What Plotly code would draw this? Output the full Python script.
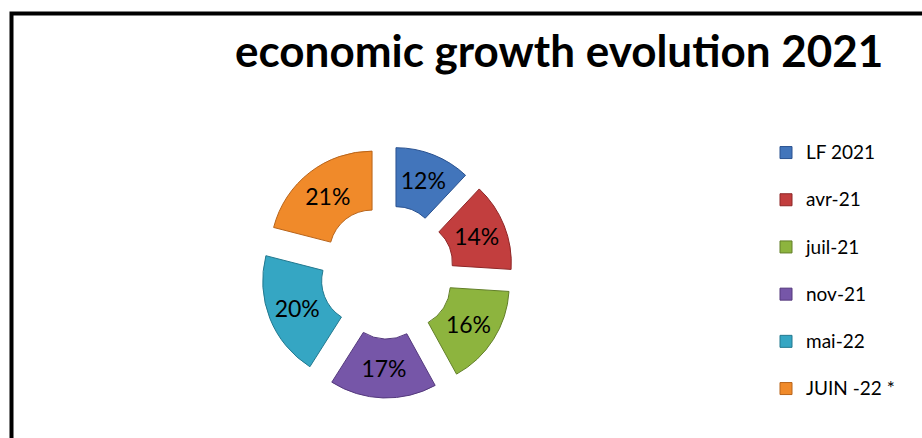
import plotly.graph_objects as go

categories = ["LF 2021", "avr-21", "juil-21", "nov-21", "mai-22", "JUIN -22 *"]
values = [12, 14, 16, 17, 20, 21]
colors = ["#4275BB", "#C23E3E", "#8DB43E", "#7656A8", "#35A6C3", "#F08A2A"]
edges = ["#2A5290", "#8E2626", "#627F28", "#54397D", "#23798F", "#B8641A"]

W, H = 922, 438

legend_labels = [f"<span style='font-size:19px'>{c}</span><br> " for c in categories]

fig = go.Figure(go.Pie(
    labels=legend_labels,
    values=values,
    sort=False,
    direction="clockwise",
    rotation=0,
    hole=0.42,
    pull=[0.24] * len(values),
    marker=dict(colors=colors, line=dict(color=edges, width=1)),
    textinfo="percent",
    texttemplate="%{value}%",
    textposition="inside",
    insidetextorientation="horizontal",
    textfont=dict(family="Lato", size=23, color="black"),
    domain=dict(x=[261 / W, 513 / W], y=[1 - 398 / H, 1 - 146 / H]),
    hoverinfo="skip",
))

fig.update_layout(
    width=W, height=H,
    margin=dict(l=0, r=0, t=0, b=0),
    paper_bgcolor="white",
    showlegend=True,
    legend=dict(
        x=766 / W, xanchor="left",
        y=1 - 135 / H, yanchor="top",
        font=dict(family="Lato", size=17, color="black"),
        valign="top",
        bgcolor="rgba(0,0,0,0)",
    ),
    annotations=[dict(
        text="<b>economic growth evolution 2021</b>",
        x=559 / W, y=1 - 50 / H, xref="paper", yref="paper",
        xanchor="center", yanchor="middle", showarrow=False,
        font=dict(family="Lato", size=44, color="black"),
    )],
    shapes=[dict(
        type="rect", xref="paper", yref="paper",
        x0=11.5 / W, x1=1.05, y0=-0.05, y1=1 - 13.5 / H,
        line=dict(color="black", width=4),
    )],
)

fig.write_html("out.html")
